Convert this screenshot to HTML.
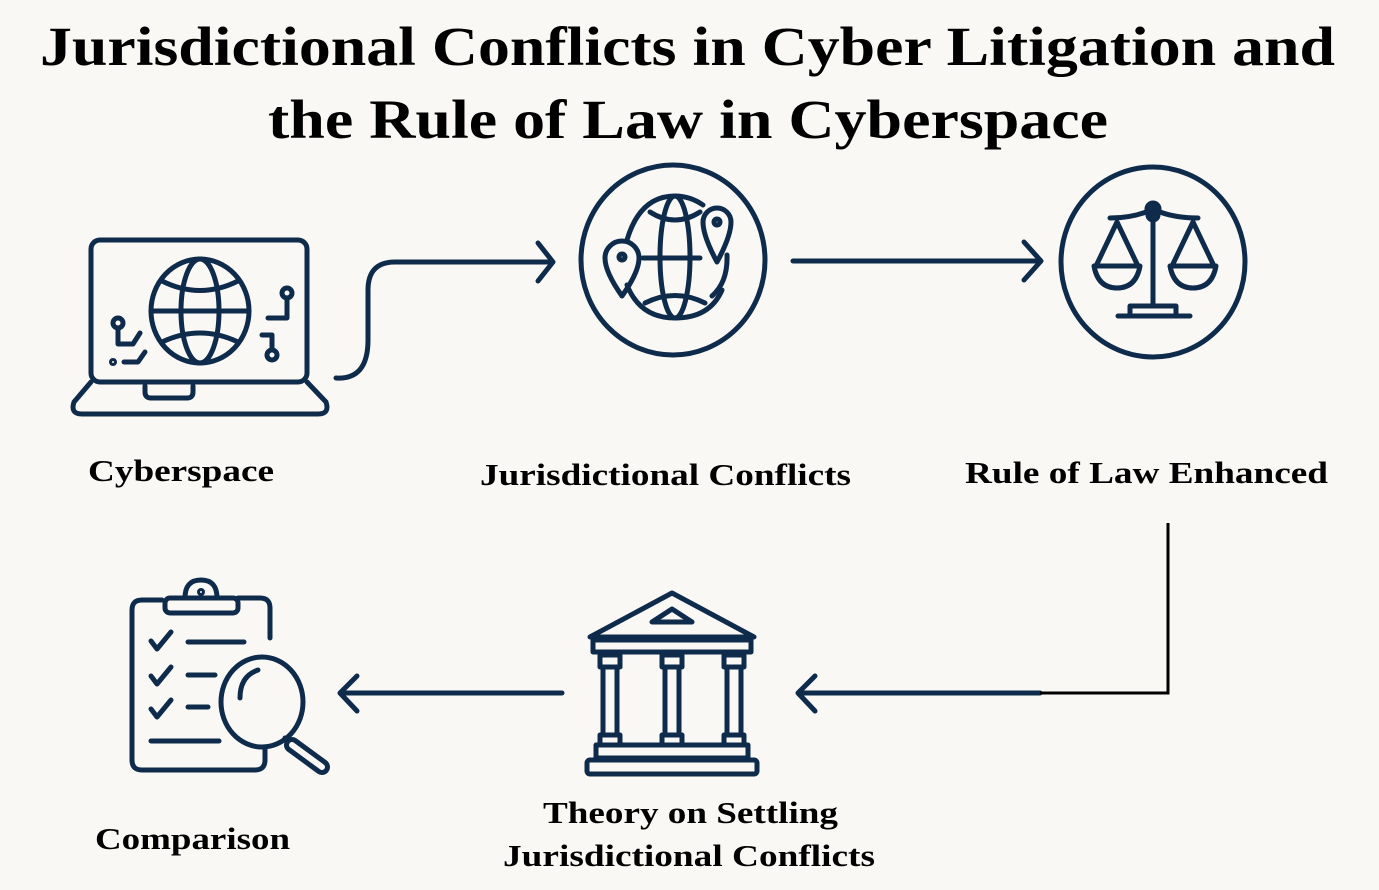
<!DOCTYPE html>
<html><head><meta charset="utf-8"><style>
html,body{margin:0;padding:0;background:#f9f8f5;}
svg{display:block}
text{font-family:"Liberation Serif",serif;font-weight:bold;fill:#000;}
</style></head><body>
<svg width="1379" height="890" viewBox="0 0 1379 890" xmlns="http://www.w3.org/2000/svg">
<rect width="1379" height="890" fill="#f9f8f5"/>
<text x="40" y="65" font-size="55" textLength="1295" lengthAdjust="spacingAndGlyphs">Jurisdictional Conflicts in Cyber Litigation and</text>
<text x="268" y="138" font-size="55" textLength="840" lengthAdjust="spacingAndGlyphs">the Rule of Law in Cyberspace</text>

<text x="88" y="481" font-size="31" textLength="186" lengthAdjust="spacingAndGlyphs">Cyberspace</text>
<text x="480" y="485" font-size="31" textLength="371" lengthAdjust="spacingAndGlyphs">Jurisdictional Conflicts</text>
<text x="965" y="483" font-size="31" textLength="363" lengthAdjust="spacingAndGlyphs">Rule of Law Enhanced</text>
<text x="543" y="823" font-size="31" textLength="295" lengthAdjust="spacingAndGlyphs">Theory on Settling</text>
<text x="503" y="866" font-size="31" textLength="372" lengthAdjust="spacingAndGlyphs">Jurisdictional Conflicts</text>
<text x="95" y="849" font-size="31" textLength="195" lengthAdjust="spacingAndGlyphs">Comparison</text>

<g fill="none" stroke="#0f2b4c" stroke-width="5" stroke-linecap="round" stroke-linejoin="round">
<!-- laptop -->
<rect x="91" y="240" width="216" height="142" rx="9"/>
<path d="M91 382 L74 402 Q70 414 82 414 L318 414 Q330 414 326 402 L307 382"/>
<path d="M145 386 v6 q0 6 6 6 h36 q6 0 6 -6 v-6"/>
<ellipse cx="200" cy="311" rx="49" ry="52"/>
<ellipse cx="200" cy="311" rx="19" ry="52"/>
<line x1="151" y1="311" x2="249" y2="311"/>
<path d="M162 281 Q200 300 238 281 M162 342 Q200 324 238 342"/>
<circle cx="118" cy="323" r="5"/><path d="M118 328 v16 h15 l7 -11"/>
<circle cx="113" cy="362" r="1.5"/><path d="M124 362 h14 l7 -10"/>
<circle cx="287" cy="293" r="5"/><path d="M287 298 v20 h-19"/>
<path d="M262 335 h10 v14"/><circle cx="272" cy="355" r="5"/>
<!-- connector 1 -->
<path d="M336 378 Q368 380 368 340 L368 290 Q368 262 395 262 L551 262"/>
<path d="M538 243 L553 262 L538 281"/>
<!-- circle 2 -->
<ellipse cx="673" cy="260" rx="92" ry="95"/>
<path d="M703 205 Q690 196 675 196 Q640 196 627 240 M627 285 Q640 318 675 318 Q710 318 722 290"/>
<ellipse cx="675" cy="257" rx="15" ry="61"/>
<line x1="643" y1="258" x2="700" y2="258"/>
<path d="M650 212 Q675 228 700 212 M645 303 Q675 288 705 303"/>
<path d="M622 296 Q605 272 605 258 A17 17 0 0 1 639 258 Q639 272 622 296Z"/>
<circle cx="622" cy="257" r="3"/>
<path d="M717 262 Q703 236 703 222 A14 14 0 0 1 731 222 Q731 236 717 262Z"/>
<circle cx="717" cy="222" r="3"/>
<path d="M727 255 Q728 282 712 296"/>
<!-- arrow 2 -->
<line x1="793" y1="261" x2="1040" y2="261"/>
<path d="M1024 242 L1041 261 L1024 280"/>
<!-- circle 3 -->
<ellipse cx="1153" cy="262" rx="92" ry="95"/>
<path d="M1110 218 Q1130 218 1146 212 M1160 212 Q1176 218 1198 218"/>
<circle cx="1153" cy="209" r="6" fill="#0f2b4c"/>
<circle cx="1153" cy="215" r="5"/>
<line x1="1153" y1="220" x2="1153" y2="305"/>
<path d="M1130 313 v-7 h46 v7"/><line x1="1118" y1="316" x2="1190" y2="316"/>
<path d="M1117 222 L1096 266 M1117 222 L1138 266 M1094 266 h46 q-4 22 -23 22 q-19 0 -23 -22"/>
<path d="M1193 222 L1172 266 M1193 222 L1214 266 M1170 266 h46 q-4 22 -23 22 q-19 0 -23 -22"/>
<!-- return arrow -->
<line x1="800" y1="693" x2="1040" y2="693"/>
<path d="M815 676 L798 693 L815 711"/>
<line x1="346" y1="693" x2="562" y2="693"/>
<path d="M357 676 L340 693 L357 711"/>
<!-- building -->
<path d="M590 637 L672 593 L754 637 Z"/>
<path d="M652 622 L672 609 L692 622 Z"/>
<rect x="593" y="640" width="158" height="12"/>
<rect x="600" y="655" width="20" height="12"/><rect x="662" y="655" width="20" height="12"/><rect x="724" y="655" width="20" height="12"/>
<rect x="603" y="667" width="14" height="68"/><rect x="665" y="667" width="14" height="68"/><rect x="727" y="667" width="14" height="68"/>
<rect x="600" y="735" width="20" height="10"/><rect x="662" y="735" width="20" height="10"/><rect x="724" y="735" width="20" height="10"/>
<rect x="596" y="745" width="152" height="13"/>
<rect x="587" y="760" width="170" height="14" rx="3"/>
<!-- clipboard -->
<path d="M265 748 v12 q0 10 -10 10 h-113 q-10 0 -10 -10 v-150 q0 -10 10 -10 h20 M238 598 h22 q10 0 10 10 v30"/>
<rect x="165" y="598" width="73" height="15" rx="5"/>
<path d="M185 598 q0 -18 16 -18 q16 0 16 18"/><circle cx="201" cy="592" r="1.5"/>
<path d="M151 641 l6 8 l14 -17 M151 676 l6 8 l14 -17 M151 709 l6 8 l14 -17"/>
<path d="M188 642 h56 M188 675 h27 M188 707 h20 M151 741 h68"/>
<ellipse cx="262" cy="702" rx="41" ry="45"/>
<path d="M240 698 q0 -22 18 -28"/>
<path d="M285 738 l8 10"/>
<path d="M292 745 L322 767" stroke-width="16"/>
<path d="M292 745 L322 767" stroke="#f9f8f5" stroke-width="6"/>
</g>
<polyline points="1168,523 1168,693 1040,693" fill="none" stroke="#000" stroke-width="3"/>
</svg>
</body></html>
